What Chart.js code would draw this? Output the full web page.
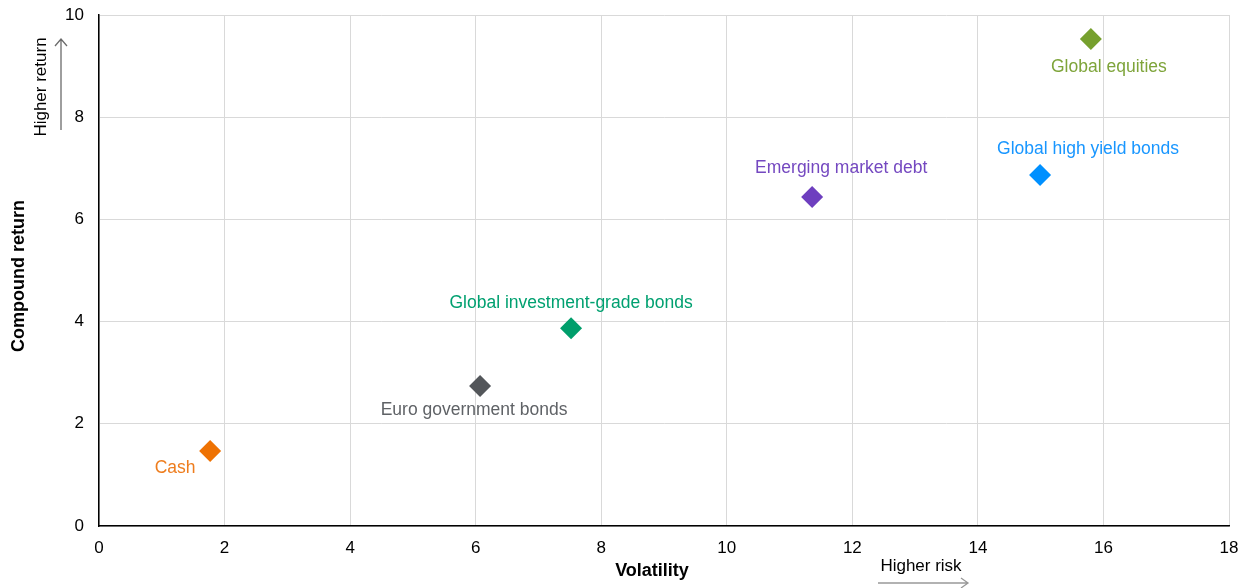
<!DOCTYPE html>
<html>
<head>
<meta charset="utf-8">
<script src="https://cdn.jsdelivr.net/npm/chart.js@4"></script>
<style>
html,body{margin:0;padding:0;background:#fff;}
#wrap{width:1250px;height:588px;position:relative;}
</style>
</head>
<body>
<div id="wrap"><canvas id="c" width="1250" height="588"></canvas></div>
<script>
const categories = ['Cash', 'Euro government bonds', 'Global investment-grade bonds', 'Emerging market debt', 'Global high yield bonds', 'Global equities'];
const volatility = [1.77, 6.07, 7.52, 11.36, 14.99, 15.80];
const compoundReturn = [1.47, 2.74, 3.87, 6.44, 6.87, 9.53];
const xTicks = [0, 2, 4, 6, 8, 10, 12, 14, 16, 18];
const yTicks = [0, 2, 4, 6, 8, 10];
const xTitle = 'Volatility';
const yTitle = 'Compound return';
const xNote = 'Higher risk';
const yNote = 'Higher return';

const pointColors = ['#EE7203', '#53565A', '#009E6B', '#6E3FBF', '#0090FF', '#76A02E'];
const labelColors = ['#EE7D1E', '#5F6266', '#00A070', '#7448C0', '#1896FF', '#7EA43A'];
const labelOffsets = [[-35, 17], [-6, 24], [0, -25], [29, -29], [48, -26], [18, 28]];

const FONT = '"Liberation Sans", Arial, sans-serif';

const annotations = {
  id: 'annotations',
  afterDatasetsDraw(chart) {
    const ctx = chart.ctx;
    const xs = chart.scales.x, ys = chart.scales.y;
    ctx.save();
    ctx.font = '17.5px ' + FONT;
    ctx.textAlign = 'center';
    ctx.textBaseline = 'middle';
    categories.forEach((name, i) => {
      const px = xs.getPixelForValue(volatility[i]);
      const py = ys.getPixelForValue(compoundReturn[i]);
      ctx.fillStyle = labelColors[i];
      ctx.fillText(name, px + labelOffsets[i][0], py + labelOffsets[i][1]);
    });
    ctx.restore();
  },
  afterDraw(chart) {
    const ctx = chart.ctx;
    ctx.save();
    ctx.fillStyle = '#000';
    ctx.font = 'bold 18px ' + FONT;
    ctx.textAlign = 'center';
    ctx.textBaseline = 'middle';
    ctx.fillText(xTitle, 652, 571);
    ctx.save();
    ctx.translate(19, 276);
    ctx.rotate(-Math.PI / 2);
    ctx.fillText(yTitle, 0, 0);
    ctx.restore();
    ctx.font = '17px ' + FONT;
    ctx.fillStyle = '#000';
    ctx.fillText(xNote, 921, 566);
    ctx.save();
    ctx.translate(41, 87);
    ctx.rotate(-Math.PI / 2);
    ctx.fillText(yNote, 0, 0);
    ctx.restore();
    ctx.strokeStyle = '#6b6b6b';
    ctx.lineWidth = 1.3;
    ctx.beginPath();
    ctx.moveTo(61, 130); ctx.lineTo(61, 39);
    ctx.moveTo(55, 46); ctx.lineTo(61, 39); ctx.lineTo(67, 46);
    ctx.stroke();
    ctx.strokeStyle = '#999';
    ctx.beginPath();
    ctx.moveTo(878, 583); ctx.lineTo(968, 583);
    ctx.moveTo(961, 578); ctx.lineTo(968, 583); ctx.lineTo(961, 588);
    ctx.stroke();
    ctx.restore();
  }
};

new Chart(document.getElementById('c'), {
  type: 'scatter',
  data: {
    datasets: [{
      label: 'Assets',
      data: volatility.map((v, i) => ({ x: v, y: compoundReturn[i] })),
      pointStyle: 'rectRot',
      pointRadius: 11,
      pointHoverRadius: 11,
      pointBackgroundColor: pointColors,
      pointBorderColor: pointColors,
      pointBorderWidth: 0
    }]
  },
  options: {
    responsive: false,
    animation: false,
    devicePixelRatio: 1,
    layout: { padding: { left: 0, top: 15, right: 21, bottom: 0 } },
    plugins: { legend: { display: false }, tooltip: { enabled: false } },
    scales: {
      x: {
        type: 'linear',
        min: 0, max: 18,
        afterBuildTicks(s) { s.ticks = xTicks.map(v => ({ value: v })); },
        afterFit(s) { s.height = 62; s.paddingLeft = 0; s.paddingRight = 0; },
        grid: { color: '#d9d9d9', lineWidth: 1, drawTicks: false },
        border: { color: '#000', width: 1.5 },
        ticks: { color: '#000', font: { family: FONT, size: 17 }, padding: 12, maxRotation: 0 }
      },
      y: {
        type: 'linear',
        min: 0, max: 10,
        afterBuildTicks(s) { s.ticks = yTicks.map(v => ({ value: v })); },
        afterFit(s) { s.width = 99; s.paddingTop = 0; s.paddingBottom = 0; },
        grid: { color: '#d9d9d9', lineWidth: 1, drawTicks: false },
        border: { color: '#000', width: 1.5 },
        ticks: { color: '#000', font: { family: FONT, size: 17 }, padding: 15 }
      }
    }
  },
  plugins: [annotations]
});
</script>
</body>
</html>
